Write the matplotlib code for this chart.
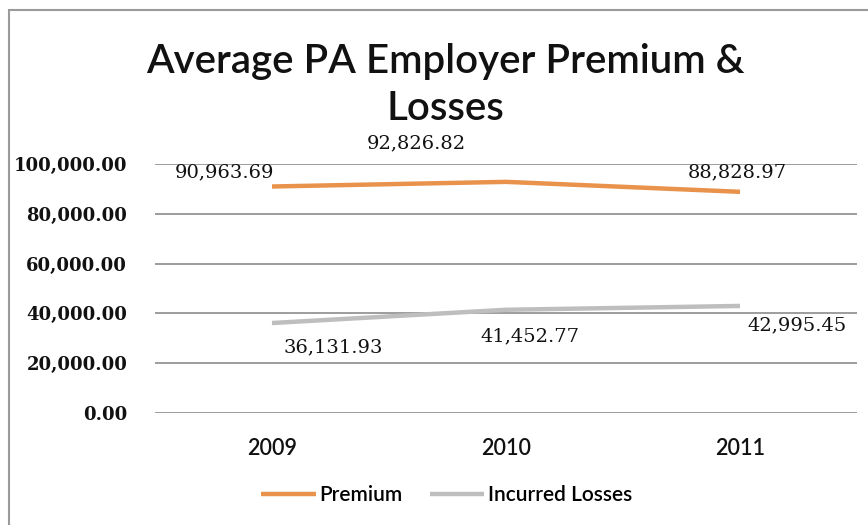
import matplotlib
matplotlib.use("Agg")
import matplotlib.pyplot as plt
from matplotlib.patches import Rectangle
from matplotlib.ticker import FuncFormatter

# Yearly averages for PA employers
years = ["2009", "2010", "2011"]
premium = [90963.69, 92826.82, 88828.97]
incurred_losses = [36131.93, 41452.77, 42995.45]

# where each value label sits relative to its point (pixels)
premium_offsets = [(-48, 14), (-90, 39), (-3, 19)]
losses_offsets = [(61, -24), (24, -27), (57, -19)]

orange = "#E8924C"
grey = "#BEBEBE"

fig = plt.figure(figsize=(8.68, 5.25), dpi=100)
W, H = 868, 525

# chart frame (only left and top edges fall inside the image)
fig.patches.append(Rectangle((9 / W, -0.1), 1.2, 1.1 - 10 / H,
                             transform=fig.transFigure, fill=False,
                             edgecolor="#9A9A9A", linewidth=1.5))

ax = fig.add_axes([155 / W, (H - 413) / H, 702 / W, 249 / H])
x = list(range(len(years)))

ax.plot(x, premium, color=orange, linewidth=3.2, solid_capstyle="butt", label="Premium")
ax.plot(x, incurred_losses, color=grey, linewidth=3.2, solid_capstyle="butt",
        label="Incurred Losses")

for i, v in enumerate(premium):
    ax.annotate(f"{v:,.2f}", (i, v), xytext=premium_offsets[i], textcoords="offset pixels",
                ha="center", va="center", fontsize=14, family="DejaVu Serif", color="#111111")
for i, v in enumerate(incurred_losses):
    ax.annotate(f"{v:,.2f}", (i, v), xytext=losses_offsets[i], textcoords="offset pixels",
                ha="center", va="center", fontsize=14, family="DejaVu Serif", color="#111111")

ax.set_xlim(-0.5, 2.5)
ax.set_ylim(0, 100000)
ax.set_yticks(range(0, 100001, 20000))
ax.yaxis.set_major_formatter(FuncFormatter(lambda v, p: f"{v:,.2f}"))
ax.set_xticks(x)
ax.set_xticklabels(years)
for lbl in ax.get_yticklabels():
    lbl.set_family("DejaVu Serif")
    lbl.set_fontweight("bold")
    lbl.set_fontsize(13)
for lbl in ax.get_xticklabels():
    lbl.set_family("Lato")
    lbl.set_fontweight("semibold")
    lbl.set_fontsize(15.5)
ax.tick_params(axis="both", length=0, colors="#111111")
ax.tick_params(axis="y", pad=20)
ax.tick_params(axis="x", pad=18)

ax.grid(axis="y", color="#8C8C8C", linewidth=1.2)
ax.set_axisbelow(True)
for s in ["left", "right", "top", "bottom"]:
    ax.spines[s].set_visible(False)

fig.text(445 / W, 1 - 62 / H, "Average PA Employer Premium &", ha="center", va="center",
         fontsize=29, family="Lato", fontweight="semibold", color="#111111")
fig.text(445 / W, 1 - 108 / H, "Losses", ha="center", va="center",
         fontsize=29, family="Lato", fontweight="semibold", color="#111111")

leg = fig.legend(loc="center", bbox_to_anchor=(447 / W, 1 - 495 / H), ncol=2, frameon=False,
                 prop={"family": "Lato", "size": 15, "weight": "semibold"},
                 handlelength=2.6, handletextpad=0.2, columnspacing=1.3)

fig.savefig("out.png", dpi=100)
